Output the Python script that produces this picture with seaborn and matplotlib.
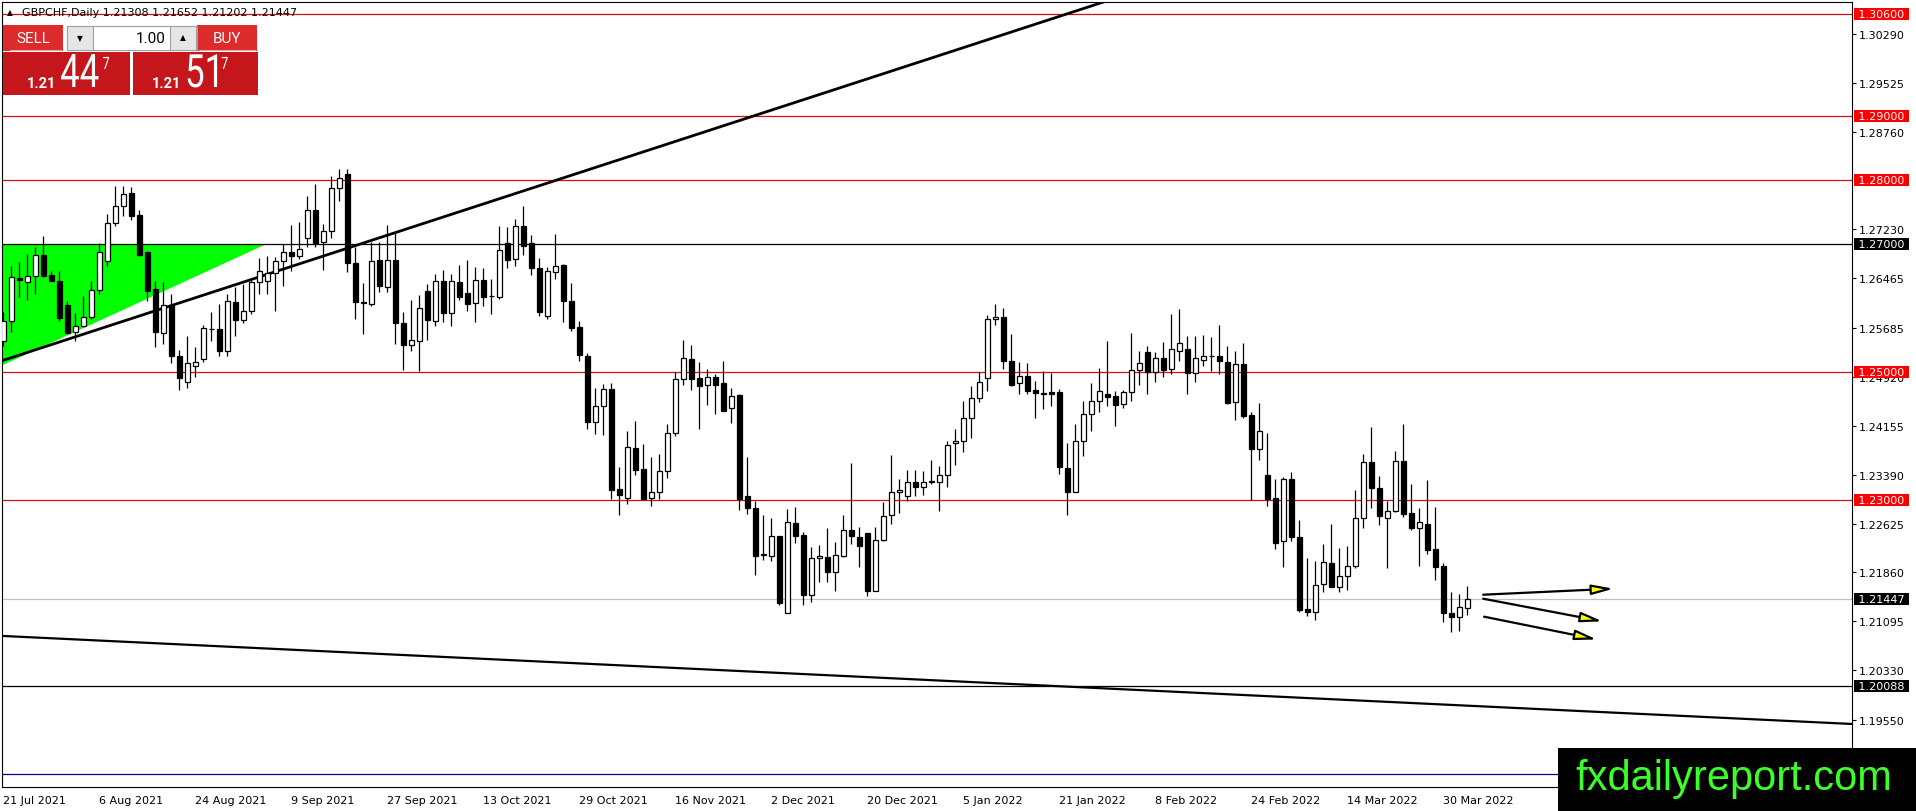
import numpy as np
import pandas as pd
import matplotlib
matplotlib.use('Agg')
import matplotlib.pyplot as plt
from matplotlib.patches import Rectangle, Polygon, PathPatch
from matplotlib.textpath import TextPath
from matplotlib.font_manager import FontProperties
from matplotlib.transforms import Affine2D
import seaborn as sns

# GBPCHF daily candles (21 Jul 2021 .. 4 Apr 2022)
open_ = [1.25488, 1.25790, 1.26469, 1.26411, 1.26505, 1.26834, 1.26515, 1.26427, 1.26046, 1.25618,
         1.25712, 1.25853, 1.26281, 1.26730, 1.27324, 1.27590, 1.27799, 1.27454, 1.26870, 1.26297,
         1.25603, 1.26046, 1.25253, 1.24836, 1.25091, 1.25201, 1.25676, 1.25670, 1.25331, 1.26088,
         1.25816, 1.25947, 1.26401, 1.26427, 1.26547, 1.26740, 1.26870, 1.26808, 1.27094, 1.27533,
         1.27027, 1.27199, 1.27877, 1.28096, 1.26703, 1.26098, 1.26062, 1.26750, 1.26323, 1.26750,
         1.25764, 1.25425, 1.25477, 1.26260, 1.25801, 1.26416, 1.25916, 1.26401, 1.26229, 1.26072,
         1.26437, 1.26181, 1.26176, 1.27011, 1.26766, 1.27287, 1.27011, 1.26620, 1.25879, 1.26557,
         1.26672, 1.26103, 1.25696, 1.25253, 1.24210, 1.24460, 1.24731, 1.23166, 1.23020, 1.23803,
         1.23480, 1.23020, 1.23114, 1.23443, 1.24038, 1.24888, 1.25201, 1.24898, 1.24799, 1.24914,
         1.24820, 1.24429, 1.24643, 1.23052, 1.22864, 1.22144, 1.22123, 1.22426, 1.21221, 1.22634,
         1.22447, 1.21508, 1.22082, 1.22097, 1.21873, 1.22123, 1.22530, 1.22410, 1.22473, 1.21565,
         1.22374, 1.22760, 1.23114, 1.23052, 1.23271, 1.23192, 1.23281, 1.23281, 1.23391, 1.23881,
         1.23923, 1.24272, 1.24585, 1.24898, 1.25822, 1.25853, 1.25175, 1.24820, 1.24935, 1.24716,
         1.24664, 1.24679, 1.24679, 1.23490, 1.23125, 1.23913, 1.24340, 1.24538, 1.24653, 1.24617,
         1.24497, 1.24679, 1.25034, 1.25305, 1.24992, 1.25211, 1.25045, 1.25331, 1.25357, 1.24977,
         1.25191, 1.25243, 1.25253, 1.25149, 1.24523, 1.25118, 1.24325, 1.23792, 1.23385, 1.23020,
         1.22347, 1.23323, 1.22410, 1.21289, 1.21247, 1.21680, 1.22004, 1.21627, 1.21800, 1.21956,
         1.22707, 1.23584, 1.23177, 1.22707, 1.22828, 1.23610, 1.22791, 1.22561, 1.22619, 1.22228,
         1.21967, 1.21226, 1.21158, 1.21308]

high = [1.25930, 1.26661, 1.26714, 1.26844, 1.26948, 1.27121, 1.26583, 1.26583, 1.26114, 1.25921,
        1.26192, 1.26427, 1.27016, 1.27470, 1.27903, 1.27913, 1.27887, 1.27538, 1.26896, 1.26427,
        1.26401, 1.26218, 1.25347, 1.25556, 1.25383, 1.25733, 1.25931, 1.26062, 1.26218, 1.26322,
        1.26374, 1.26443, 1.26782, 1.26818, 1.26792, 1.26999, 1.27298, 1.27350, 1.27747, 1.27940,
        1.27314, 1.28070, 1.28174, 1.28174, 1.26948, 1.26385, 1.27027, 1.27037, 1.27298, 1.27183,
        1.25931, 1.26129, 1.26208, 1.26374, 1.26531, 1.26599, 1.26531, 1.26672, 1.26750, 1.26635,
        1.26625, 1.26453, 1.27277, 1.27261, 1.27392, 1.27601, 1.27141, 1.26776, 1.26635, 1.27157,
        1.26687, 1.26390, 1.25800, 1.25300, 1.24742, 1.24810, 1.24825, 1.23506, 1.24079, 1.24236,
        1.23871, 1.23662, 1.23714, 1.24184, 1.25003, 1.25504, 1.25420, 1.25149, 1.25045, 1.24966,
        1.25175, 1.24742, 1.24660, 1.23662, 1.22984, 1.22760, 1.22707, 1.22426, 1.22854, 1.22880,
        1.22499, 1.22254, 1.22290, 1.22551, 1.22332, 1.22760, 1.23573, 1.22567, 1.22473, 1.22567,
        1.22969, 1.23698, 1.23323, 1.23469, 1.23469, 1.23454, 1.23620, 1.23521, 1.23923, 1.24105,
        1.24549, 1.24784, 1.24992, 1.25889, 1.26062, 1.25999, 1.25592, 1.25149, 1.25139, 1.24852,
        1.25008, 1.24977, 1.24732, 1.23887, 1.24184, 1.24538, 1.24826, 1.25055, 1.25488, 1.24705,
        1.24716, 1.25603, 1.25331, 1.25399, 1.25316, 1.25472, 1.25905, 1.25983, 1.25556, 1.25556,
        1.25576, 1.25540, 1.25733, 1.25399, 1.25331, 1.25451, 1.24377, 1.24507, 1.24043, 1.23323,
        1.23349, 1.23427, 1.22681, 1.22082, 1.22045, 1.22306, 1.22619, 1.22238, 1.22269, 1.23156,
        1.23714, 1.24132, 1.23365, 1.22973, 1.23756, 1.24184, 1.23245, 1.22864, 1.23313, 1.22880,
        1.22009, 1.21549, 1.21523, 1.21652]

low = [1.25400, 1.25618, 1.26166, 1.26129, 1.26218, 1.26479, 1.26427, 1.25801, 1.25592, 1.25488,
       1.25697, 1.25827, 1.26218, 1.26650, 1.27288, 1.27444, 1.27381, 1.26818, 1.26114, 1.25384,
       1.25436, 1.25138, 1.24721, 1.24742, 1.24914, 1.25149, 1.25488, 1.25253, 1.25253, 1.25566,
       1.25764, 1.25900, 1.26218, 1.26218, 1.25957, 1.26349, 1.26583, 1.26766, 1.26948, 1.26948,
       1.26600, 1.27100, 1.27679, 1.26557, 1.25827, 1.25592, 1.26025, 1.26244, 1.26244, 1.25436,
       1.25034, 1.25331, 1.25018, 1.25504, 1.25712, 1.25775, 1.25712, 1.26129, 1.25950, 1.25775,
       1.26036, 1.25905, 1.26140, 1.26625, 1.26651, 1.26829, 1.26515, 1.25879, 1.25830, 1.26453,
       1.25775, 1.25644, 1.25175, 1.24105, 1.24027, 1.24012, 1.23010, 1.22760, 1.22932, 1.23386,
       1.23010, 1.22895, 1.23010, 1.23333, 1.23991, 1.24794, 1.24721, 1.24106, 1.24481, 1.24340,
       1.24382, 1.24200, 1.22843, 1.22775, 1.21821, 1.22061, 1.22045, 1.21356, 1.21221, 1.22316,
       1.21356, 1.21403, 1.21716, 1.21716, 1.21575, 1.22097, 1.22306, 1.21951, 1.21497, 1.21565,
       1.22358, 1.22619, 1.22791, 1.22984, 1.23052, 1.23073, 1.23245, 1.22827, 1.23192, 1.23542,
       1.23751, 1.23959, 1.24533, 1.24705, 1.25733, 1.25045, 1.24784, 1.24653, 1.24653, 1.24278,
       1.24418, 1.24460, 1.23401, 1.22760, 1.23125, 1.23688, 1.24079, 1.24366, 1.24460, 1.24147,
       1.24434, 1.24549, 1.24799, 1.24653, 1.24846, 1.24914, 1.24966, 1.25175, 1.24653, 1.24846,
       1.25086, 1.25018, 1.24966, 1.24497, 1.24252, 1.24272, 1.22999, 1.23626, 1.22895, 1.22227,
       1.21941, 1.22358, 1.21247, 1.21184, 1.21122, 1.21549, 1.21627, 1.21560, 1.21591, 1.21925,
       1.22556, 1.22869, 1.22608, 1.21934, 1.22801, 1.22723, 1.22530, 1.21956, 1.22149, 1.21747,
       1.21090, 1.20934, 1.20950, 1.21202]

close = [1.25801, 1.26479, 1.26437, 1.26505, 1.26834, 1.26505, 1.26427, 1.25837, 1.25608, 1.25712,
         1.25853, 1.26281, 1.26870, 1.27329, 1.27590, 1.27783, 1.27444, 1.26829, 1.26270, 1.25618,
         1.26051, 1.25243, 1.24898, 1.25138, 1.25159, 1.25686, 1.25665, 1.25331, 1.26103, 1.25816,
         1.25957, 1.26401, 1.26583, 1.26547, 1.26740, 1.26870, 1.26808, 1.26922, 1.27533, 1.27016,
         1.27199, 1.27877, 1.28028, 1.26703, 1.26098, 1.26072, 1.26729, 1.26338, 1.26750, 1.25764,
         1.25425, 1.25498, 1.25994, 1.25816, 1.26416, 1.25916, 1.26416, 1.26176, 1.26062, 1.26437,
         1.26176, 1.26181, 1.26907, 1.26750, 1.27287, 1.26975, 1.26620, 1.25941, 1.26573, 1.26651,
         1.26114, 1.25686, 1.25269, 1.24210, 1.24460, 1.24731, 1.23156, 1.23073, 1.23819, 1.23469,
         1.23010, 1.23114, 1.23443, 1.24038, 1.24888, 1.25217, 1.24888, 1.24784, 1.24914, 1.24799,
         1.24392, 1.24617, 1.23010, 1.22864, 1.22123, 1.22129, 1.22426, 1.21382, 1.22645, 1.22436,
         1.21508, 1.22082, 1.22113, 1.21873, 1.22134, 1.22530, 1.22426, 1.22280, 1.21565, 1.22374,
         1.22739, 1.23114, 1.23156, 1.23281, 1.23192, 1.23281, 1.23281, 1.23391, 1.23860, 1.23923,
         1.24272, 1.24585, 1.24846, 1.25822, 1.25858, 1.25175, 1.24799, 1.24935, 1.24705, 1.24664,
         1.24648, 1.24659, 1.23516, 1.23125, 1.23913, 1.24340, 1.24538, 1.24695, 1.24601, 1.24486,
         1.24679, 1.25034, 1.25133, 1.24992, 1.25211, 1.25034, 1.25357, 1.25446, 1.24977, 1.25211,
         1.25243, 1.25243, 1.25175, 1.24512, 1.25118, 1.24304, 1.23792, 1.24079, 1.23010, 1.22321,
         1.23323, 1.22410, 1.21278, 1.21247, 1.21664, 1.22019, 1.21627, 1.21800, 1.21956, 1.22707,
         1.23584, 1.23177, 1.22749, 1.22828, 1.23610, 1.22775, 1.22556, 1.22645, 1.22217, 1.21940,
         1.21226, 1.21158, 1.21315, 1.21447]

# one date label every 12 bars
date_labels = ['21 Jul 2021', '6 Aug 2021', '24 Aug 2021', '9 Sep 2021', '27 Sep 2021',
               '13 Oct 2021', '29 Oct 2021', '16 Nov 2021', '2 Dec 2021', '20 Dec 2021',
               '5 Jan 2022', '21 Jan 2022', '8 Feb 2022', '24 Feb 2022', '14 Mar 2022',
               '30 Mar 2022']
label_bars = [0, 12, 24, 36, 48, 60, 72, 84, 96, 108, 120, 132, 144, 156, 168, 180]

price_ticks = [1.30290, 1.29525, 1.28760, 1.27230, 1.26465, 1.25685, 1.24920,
               1.24155, 1.23390, 1.22625, 1.21860, 1.21095, 1.20330, 1.19550]

red_levels = [1.30600, 1.29000, 1.28000, 1.25000, 1.23000]
black_levels = [1.27000, 1.20088]
blue_level = 1.18706
ask = 1.21517

# drawn objects (bar index, price)
up_trend_x = [-0.16, 140.0]
up_trend_y = [1.25174, 1.30888]
down_trend_x = [-0.16, 231.1]
down_trend_y = [1.20867, 1.19489]
tri_x = [-0.16, 32.9, -0.16]
tri_y = [1.27000, 1.27000, 1.25100]
arrow_x0 = [185.0, 185.0, 185.1]
arrow_y0 = [1.21512, 1.21449, 1.21168]
arrow_x1 = [201.3, 199.9, 199.2]
arrow_y1 = [1.21606, 1.21095, 1.20812]

df = pd.DataFrame({'open': open_, 'high': high, 'low': low, 'close': close})
df['bar'] = np.arange(len(df))
bid = df['close'].iloc[-1]

sns.set_style('white')
plt.rcParams['font.family'] = ['DejaVu Sans']
plt.rcParams['axes.edgecolor'] = 'black'
plt.rcParams['text.color'] = 'black'
plt.rcParams['xtick.color'] = 'black'
plt.rcParams['ytick.color'] = 'black'

fig = plt.figure(figsize=(19.16, 8.12), dpi=100)
ax = fig.add_axes([2 / 1916, 23.7 / 812, 1850 / 1916, 785.6 / 812])

# levels
for lv in red_levels:
    ax.axhline(lv, color='#d01010', lw=0.9, zorder=1)
for lv in black_levels:
    ax.axhline(lv, color='black', lw=0.9, zorder=1)
ax.axhline(blue_level, color='#000080', lw=0.9, zorder=1)
ax.axhline(bid, color='#c0c0c0', lw=0.9, zorder=1)

# green triangle
ax.add_patch(Polygon(list(zip(tri_x, tri_y)), closed=True, fc='#00ff00', ec='none', zorder=0.5))

# trend lines
sns.lineplot(x=up_trend_x, y=up_trend_y, ax=ax, color='black', lw=2.0, zorder=2)
sns.lineplot(x=down_trend_x, y=down_trend_y, ax=ax, color='black', lw=1.6, zorder=2)

# candles
up = df['close'] >= df['open']
body_lo = df[['open', 'close']].min(axis=1)
body_h = (df['close'] - df['open']).abs().clip(lower=0.00004)
ax.vlines(df['bar'], df['low'], df['high'], color='black', lw=0.9, zorder=3)
ax.bar(df['bar'], body_h, bottom=body_lo, width=0.58,
       color=np.where(up, 'white', 'black'), edgecolor='black', linewidth=0.9, zorder=4)

# arrows
for x0, y0, x1, y1 in zip(arrow_x0, arrow_y0, arrow_x1, arrow_y1):
    ax.annotate('', xy=(x1, y1), xytext=(x0, y0),
                arrowprops=dict(arrowstyle='-|>,head_length=1.3,head_width=0.3',
                                fc='#ffff00', ec='black', lw=1.6, shrinkA=0, shrinkB=0),
                zorder=5)

ax.set_xlim(-0.16, 231.1)
ax.set_ylim(1.18498, 1.30792)

ax.yaxis.tick_right()
ax.set_yticks(price_ticks, [f'{v:.5f}' for v in price_ticks])
ax.set_xticks(label_bars, date_labels, ha='left')
ax.tick_params(axis='y', direction='out', length=3, width=0.8, pad=2.2, labelsize=8)
ax.tick_params(axis='x', direction='out', length=4, width=0.8, pad=1.5, labelsize=8)
ax.set_xlabel('')
ax.set_ylabel('')
for sp in ax.spines.values():
    sp.set_color('black')
    sp.set_linewidth(0.8)

# price boxes on the right scale
boxes = [(lv, '#ff0000') for lv in red_levels] + [(lv, 'black') for lv in black_levels] + [(bid, 'black')]
for lv, col in boxes:
    ax.annotate(f' {lv:.5f} ', xy=(1, lv), xycoords=('axes fraction', 'data'),
                xytext=(3, 0), textcoords='offset pixels', ha='left', va='center',
                color='white', fontsize=8, annotation_clip=False, zorder=6,
                bbox=dict(boxstyle='square,pad=0.08', fc=col, ec='none'))

# overlay in pixel coordinates for the terminal widgets
ov = fig.add_axes([0, 0, 1, 1], zorder=10)
ov.set_xlim(0, 1916)
ov.set_ylim(812, 0)
ov.axis('off')

ov.text(7, 13, '\u25b2', fontsize=5.5, va='center')
ov.text(22, 13, f"GBPCHF,Daily {open_[-1]:.5f} {high[-1]:.5f} {low[-1]:.5f} {close[-1]:.5f}",
        fontsize=8, va='center')

red_btn = '#dd2a2a'
red_big = '#c4161b'
ov.add_patch(Rectangle((3, 26), 60, 26, fc=red_btn, ec='none'))
ov.add_patch(Rectangle((197, 26), 60, 26, fc=red_btn, ec='none'))
ov.plot([10, 61], [51, 51], color='#f4a0a0', lw=0.8)
ov.plot([199, 255], [51, 51], color='#f4a0a0', lw=0.8)
ov.text(33, 39, 'SELL', color='white', fontsize=11, family='Roboto', ha='center', va='center')
ov.text(227, 39, 'BUY', color='white', fontsize=11, family='Roboto', ha='center', va='center')
ov.add_patch(Rectangle((67, 27), 130, 24, fc='white', ec='#a0a0a0', lw=0.8))
ov.add_patch(Rectangle((67, 27), 26, 24, fc='#e6e6e6', ec='#a0a0a0', lw=0.8))
ov.add_patch(Rectangle((170, 27), 26, 24, fc='#e6e6e6', ec='#a0a0a0', lw=0.8))
ov.text(80, 39, '\u25bc', fontsize=5.5, ha='center', va='center')
ov.text(183, 38, '\u25b2', fontsize=5.5, ha='center', va='center')
ov.text(166, 39, '1.00', fontsize=11, family='Roboto', ha='right', va='center')

ov.add_patch(Rectangle((3, 53), 127, 43, fc=red_big, ec='none'))
ov.add_patch(Rectangle((133, 53), 125, 43, fc=red_big, ec='none'))

roboto = FontProperties(family='Roboto')


def narrow_text(s, x, baseline, size, sx):
    # glyphs drawn as paths so they can be squeezed like the terminal font
    tp = TextPath((0, 0), s, size=size, prop=roboto)
    tr = Affine2D().scale(sx, -1).translate(x, baseline)
    ov.add_patch(PathPatch(tr.transform_path(tp), fc='white', ec='none'))
    return x + tp.get_extents().x1 * sx


for x0, price in [(27, bid), (152, ask)]:
    s = f'{price:.5f}'
    ov.text(x0, 88, s[:4], color='white', fontsize=10.5, weight='bold', family='Roboto', va='baseline')
    right = narrow_text(s[4:6], x0 + 33, 88, 46, 0.76)
    narrow_text(s[6], right + 4, 70, 17, 0.75)

# watermark
ov.add_patch(Rectangle((1558, 749), 358, 63, fc='black', ec='none'))
ov.text(1575, 790, 'fxdailyreport.com', color='#3cff2a', fontsize=30,
        family='Liberation Sans', va='baseline')

fig.savefig('out.png', dpi=100)
